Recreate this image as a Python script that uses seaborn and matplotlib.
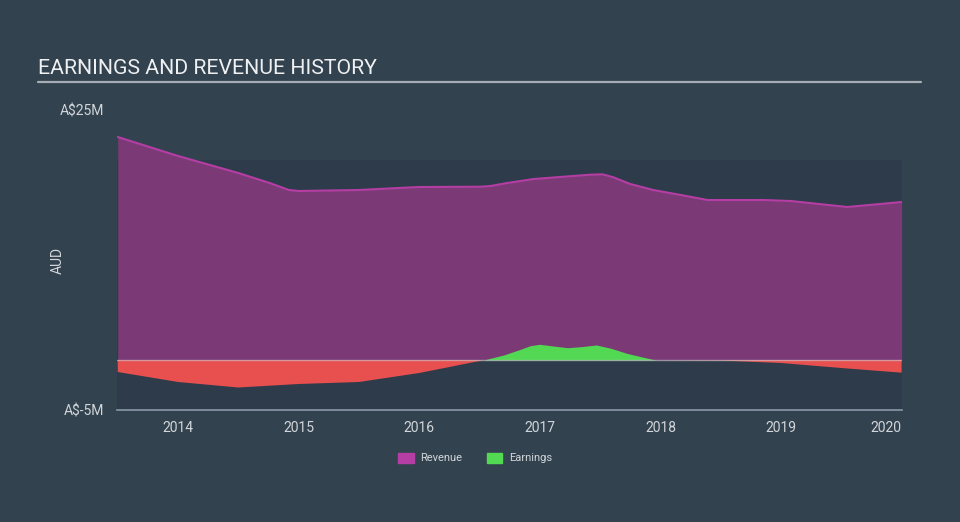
import matplotlib
matplotlib.use("Agg")
import matplotlib.pyplot as plt
import matplotlib.patches as mpatches
import numpy as np
import pandas as pd
import seaborn as sns

# ---- data (A$ millions) ----
rev_years = [2013.5, 2014.0, 2014.5, 2014.76, 2014.92, 2015.0, 2015.5, 2016.0,
             2016.51, 2016.59, 2016.73, 2016.95, 2017.2, 2017.42, 2017.52, 2017.61,
             2017.75, 2017.94, 2018.17, 2018.39, 2018.85, 2019.08, 2019.55, 2020.0]
revenue = [22.3, 20.4, 18.7, 17.7, 17.0, 16.9, 17.0, 17.3,
           17.33, 17.4, 17.7, 18.1, 18.33, 18.53, 18.57, 18.27,
           17.6, 17.0, 16.5, 16.0, 16.0, 15.9, 15.3, 15.8]

earn_years = [2013.5, 2014.0, 2014.5, 2015.0, 2015.5, 2016.0, 2016.5, 2016.7,
              2016.84, 2016.92, 2017.0, 2017.11, 2017.23, 2017.34, 2017.47, 2017.59,
              2017.72, 2017.86, 2017.96, 2018.5, 2019.0, 2019.5, 2020.0]
earnings = [-1.2, -2.2, -2.75, -2.4, -2.2, -1.3, -0.1, 0.5,
            1.07, 1.43, 1.57, 1.4, 1.23, 1.33, 1.5, 1.17,
            0.67, 0.27, 0.0, -0.05, -0.3, -0.8, -1.27]

year_ticks = [2014, 2015, 2016, 2017, 2018, 2019, 2020]
ytick_vals = [-5, 25]
ytick_labels = ["A$-5M", "A$25M"]

# ---- style ----
sns.set_theme(style="white")
plt.rcParams['font.family'] = ['Roboto', 'DejaVu Sans']

BG = "#33424f"
PLOT_BG = "#2d3b4a"
TXT = "#d2d6da"
REV_FILL = "#7b3a76"
REV_LINE = "#b43ea4"
EARN_POS = "#52d852"
EARN_NEG = "#e84f4f"

fig = plt.figure(figsize=(9.6, 5.22), dpi=100, facecolor=BG)
W, H = 960, 522
x0, x1 = 117, 902
y_top, y_bot = 110, 410
ax = fig.add_axes([x0 / W, 1 - y_bot / H, (x1 - x0) / W, (y_bot - y_top) / H])
ax.set_facecolor("none")

xmin, xmax = 2013.494, 2020.003
ax.set_xlim(xmin, xmax)
ax.set_ylim(-5, 25)

# darker plot region
ax.add_patch(mpatches.Rectangle((xmin, -5), xmax - xmin, 25, facecolor=PLOT_BG,
                                edgecolor="none", zorder=0))

rev_df = pd.DataFrame({"year": rev_years, "value": revenue})

ry = np.array(rev_years)
rv = np.array(revenue)
ax.fill_between(ry, 0, rv, color=REV_FILL, lw=0, zorder=1)
sns.lineplot(data=rev_df, x="year", y="value", ax=ax, color=REV_LINE, lw=1.5,
             zorder=3, legend=False)

ey = np.array(earn_years)
ev = np.array(earnings)
ax.fill_between(ey, 0, ev, where=ev >= 0, interpolate=True, color=EARN_POS, lw=0, zorder=2)
ax.fill_between(ey, 0, ev, where=ev <= 0, interpolate=True, color=EARN_NEG, lw=0, zorder=2)
ax.axhline(0, color="#c9ccd0", lw=1, alpha=0.6, zorder=2)

# axes decoration
for s in ["top", "right", "left"]:
    ax.spines[s].set_visible(False)
ax.spines["bottom"].set_color("#8a98a8")
ax.spines["bottom"].set_linewidth(1.2)
ax.set_xticks(year_ticks)
ax.set_xticklabels([str(y) for y in year_ticks])
ax.tick_params(axis="x", colors="#8a98a8", length=8, width=1, direction="out",
               labelcolor=TXT, labelsize=10, pad=0)
ax.get_xticklabels()[-1].set_ha("right")
ax.set_yticks(ytick_vals)
ax.set_yticklabels(ytick_labels)
ax.tick_params(axis="y", length=0, labelcolor=TXT, labelsize=10, pad=9)
ax.set_xlabel("")
ax.set_ylabel("AUD", color=TXT, fontsize=10)
ax.yaxis.set_label_coords((65 - x0) / (x1 - x0), 0.5)

# title and rule
fig.text(38 / W, 1 - 69 / H, "EARNINGS AND REVENUE HISTORY", color="#eef0f2",
         fontsize=15.3, va="center", ha="left")
fig.add_artist(plt.Line2D([38 / W, 921 / W], [1 - 82 / H, 1 - 82 / H],
                          color="#a7adb4", lw=1.6))

# legend
handles = [mpatches.Patch(color=REV_LINE, label="Revenue"),
           mpatches.Patch(color=EARN_POS, label="Earnings")]
leg = fig.legend(handles=handles, loc="center", bbox_to_anchor=(475 / W, 1 - 458 / H),
                 ncol=2, frameon=False, fontsize=8, handlelength=1.4, handleheight=1.0,
                 columnspacing=2.2, handletextpad=0.6)
for t in leg.get_texts():
    t.set_color(TXT)

fig.savefig("out.png", dpi=100, facecolor=BG)
